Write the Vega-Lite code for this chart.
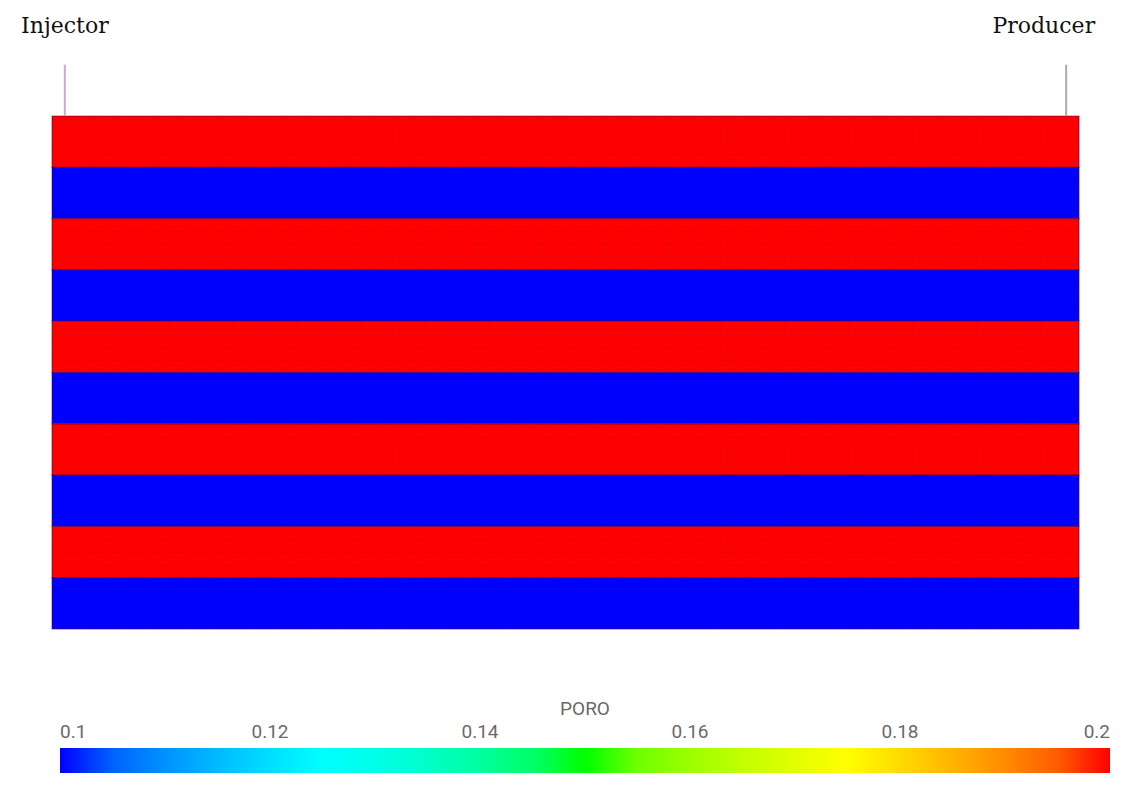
{
  "$schema": "https://vega.github.io/schema/vega-lite/v6.json",
  "width": 1027,
  "height": 513,
  "autosize": {"type": "none"},
  "padding": {"left": 52, "top": 116, "right": 59, "bottom": 168},
  "background": "white",
  "config": {"view": {"stroke": null}},
  "datasets": {
    "layers": [
      {"layer": 1, "top": 0, "bottom": 4, "PORO": 0.2},
      {"layer": 2, "top": 4, "bottom": 8, "PORO": 0.1},
      {"layer": 3, "top": 8, "bottom": 12, "PORO": 0.2},
      {"layer": 4, "top": 12, "bottom": 16, "PORO": 0.1},
      {"layer": 5, "top": 16, "bottom": 20, "PORO": 0.2},
      {"layer": 6, "top": 20, "bottom": 24, "PORO": 0.1},
      {"layer": 7, "top": 24, "bottom": 28, "PORO": 0.2},
      {"layer": 8, "top": 28, "bottom": 32, "PORO": 0.1},
      {"layer": 9, "top": 32, "bottom": 36, "PORO": 0.2},
      {"layer": 10, "top": 36, "bottom": 40, "PORO": 0.1}
    ],
    "wells": [
      {"well": "Injector", "i": 1},
      {"well": "Producer", "i": 79}
    ]
  },
  "layer": [
    {
      "data": {"name": "layers"},
      "mark": {"type": "rect", "stroke": "#500050", "strokeWidth": 1.2, "strokeOpacity": 0.5},
      "encoding": {
        "x": {"datum": 0, "type": "quantitative",
          "scale": {"domain": [0, 80], "nice": false, "zero": false},
          "axis": {"grid": true, "labels": false, "ticks": false, "domain": false, "title": null, "tickCount": 80, "gridColor": "#000000", "gridOpacity": 0.05, "zindex": 1}},
        "x2": {"datum": 80},
        "y": {"field": "top", "type": "quantitative",
          "scale": {"domain": [0, 40], "nice": false, "zero": false, "reverse": true},
          "axis": {"grid": true, "labels": false, "ticks": false, "domain": false, "title": null, "tickCount": 40, "gridColor": "#000000", "gridOpacity": 0.05, "zindex": 1}},
        "y2": {"field": "bottom"},
        "color": {"field": "PORO", "type": "quantitative",
          "scale": {"domain": [0.1, 0.125, 0.15, 0.175, 0.2], "range": ["#0000ff", "#00ffff", "#00ff00", "#ffff00", "#ff0000"]},
          "legend": {
            "orient": "none", "direction": "horizontal",
            "legendX": 8, "legendY": 584,
            "gradientLength": 1050, "gradientThickness": 25,
            "gradientStrokeWidth": 0,
            "values": [0.1, 0.12, 0.14, 0.16, 0.18, 0.2],
            "format": ".2~f",
            "title": "PORO", "titleFont": "Roboto", "titleFontSize": 19, "titleFontWeight": "normal", "titleColor": "#6a6a6a",
            "titleAnchor": "middle", "titleAlign": "center", "titlePadding": 29,
            "labelFont": "Roboto", "labelFontSize": 19, "labelColor": "#6a6a6a",
            "labelOffset": -50, "labelBaseline": "top", "labelAlign": "center", "labelOverlap": false
          }}
      }
    },
    {
      "data": {"name": "wells"},
      "mark": {"type": "rule", "strokeWidth": 2},
      "encoding": {
        "x": {"field": "i", "type": "quantitative"},
        "y": {"datum": -4},
        "y2": {"datum": 0},
        "color": {"field": "well", "type": "nominal", "scale": {"domain": ["Injector", "Producer"], "range": ["#d2a6d2", "#b9a4ab"]}, "legend": null}
      }
    },
    {
      "data": {"name": "wells"},
      "transform": [{"filter": "datum.well === 'Injector'"}],
      "mark": {"type": "text", "font": "DejaVu Serif", "fontSize": 22, "color": "#111111", "align": "center", "baseline": "alphabetic"},
      "encoding": {
        "x": {"field": "i", "type": "quantitative"},
        "y": {"datum": -6.5},
        "text": {"field": "well"}
      }
    },
    {
      "data": {"name": "wells"},
      "transform": [{"filter": "datum.well === 'Producer'"}],
      "mark": {"type": "text", "font": "DejaVu Serif", "fontSize": 22, "color": "#111111", "align": "right", "baseline": "alphabetic", "dx": 29},
      "encoding": {
        "x": {"field": "i", "type": "quantitative"},
        "y": {"datum": -6.5},
        "text": {"field": "well"}
      }
    }
  ]
}
